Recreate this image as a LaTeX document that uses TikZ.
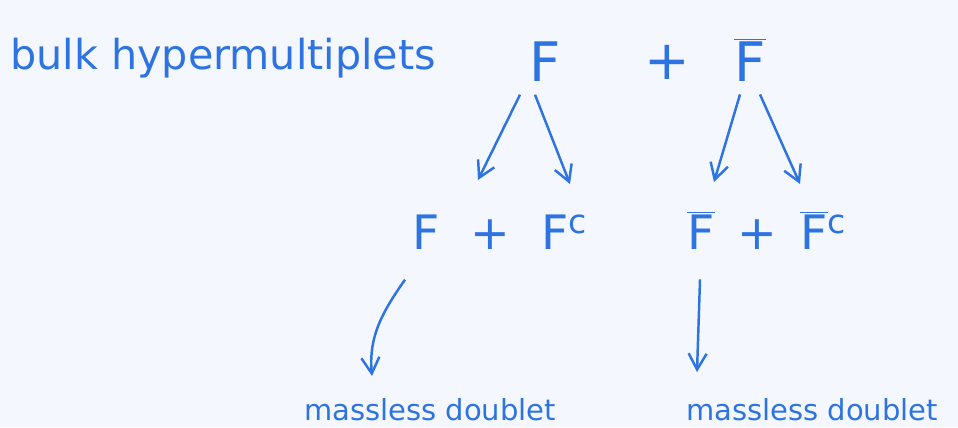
\documentclass[tikz,border=0pt]{standalone}
\usepackage{fontspec}
\setmainfont{DejaVu Sans}
\usetikzlibrary{arrows.meta, positioning}
\definecolor{inkblue}{RGB}{45,115,225}
\definecolor{paper}{RGB}{244,247,253}
\tikzset{
  handtext/.style={text=inkblue, inner sep=0pt, font=\fontsize{23.5}{27}\selectfont},
  bigterm/.style={text=inkblue, inner sep=0pt, font=\fontsize{31}{35}\selectfont},
  midterm/.style={text=inkblue, inner sep=0pt, font=\fontsize{27}{31}\selectfont},
  smalltext/.style={text=inkblue, inner sep=0pt, font=\fontsize{16.5}{19}\selectfont},
  arrow/.style={draw=inkblue, line width=1.4pt, -{Straight Barb[length=3.2mm,width=3.6mm]}},
}

\begin{document}
\begin{tikzpicture}[x=0.02cm, y=-0.02cm]
  \fill [paper] (0,0) rectangle (958,427);
  \useasboundingbox (0,0) rectangle (958,427);

  \node (bulk)  [handtext, anchor=west] at (10,58)  {bulk hypermultiplets};
  \node (F)     [bigterm]               at (545,62) {F};
  \node (plus)  [bigterm]               at (667,62) {+};
  \node (Fbar)  [bigterm]               at (750,60) {$\overline{\hbox{F}}$};

  \node (FFc)       [midterm] at (500,232) {F\,\, + \,\,F\textsuperscript{c}};
  \node (FbarFbarc) [midterm] at (767,230) {$\overline{\hbox{F}}$\, + \,$\overline{\hbox{F}}$\textsuperscript{c}};

  \node (dblleft)  [smalltext] at (430,410) {massless doublet};
  \node (dblright) [smalltext] at (812,410) {massless doublet};

  \coordinate (FtoL)    at (478,180);
  \coordinate (FtoR)    at (570,184);
  \coordinate (FbartoL) at (714,182);
  \coordinate (FbartoR) at (800,184);
  \coordinate (leftend)  at (372,376);
  \coordinate (rightend) at (697,372);

  \draw [arrow] ([xshift=-0.5cm,yshift=-0.25cm]F.south) -- (FtoL);
  \draw [arrow] ([xshift=-0.2cm,yshift=-0.25cm]F.south) -- (FtoR);
  \draw [arrow] ([xshift=-0.2cm,yshift=-0.25cm]Fbar.south) -- (FbartoL);
  \draw [arrow] ([xshift=0.2cm,yshift=-0.25cm]Fbar.south) -- (FbartoR);
  \draw [arrow] ([xshift=-1.9cm,yshift=-0.6cm]FFc.south) to[out=235,in=95] (leftend);
  \draw [arrow] ([xshift=-1.34cm,yshift=-0.6cm]FbarFbarc.south) -- (rightend);
\end{tikzpicture}
\end{document}
